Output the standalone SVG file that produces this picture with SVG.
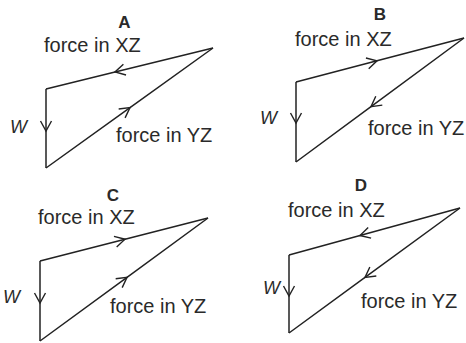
<svg xmlns="http://www.w3.org/2000/svg" width="466" height="343" viewBox="0 0 466 343">
<style>
.bg{fill:#ffffff}
.side{fill:none;stroke:#222;stroke-width:1.5;stroke-linejoin:miter;marker-mid:url(#chev)}
.lbl{font-family:"Liberation Sans",Arial,sans-serif;font-size:20px;fill:#2a2a2a}
.ttl{font-family:"Liberation Sans",Arial,sans-serif;font-size:17px;font-weight:bold;fill:#2a2a2a;text-anchor:middle}
.w{font-family:"Liberation Sans",Arial,sans-serif;font-size:18px;font-style:italic;fill:#2a2a2a}
</style>
<defs>
<marker id="chev" markerUnits="userSpaceOnUse" markerWidth="14" markerHeight="14" viewBox="-12 -7 14 14" refX="0" refY="0" orient="auto" overflow="visible">
<path d="M-10,-5.5 L0,0 L-10,5.5" fill="none" stroke="#222" stroke-width="1.4"/>
</marker>
</defs>
<rect class="bg" x="0" y="0" width="466" height="343"/>
<g id="connectors">
<path class="side" d="M213,48 L115,72 L46,89"/>
<path class="side" d="M46,168 L130,107.6 L213,48"/>
<path class="side" d="M46,89 L46,131 L46,168"/>
<path class="side" d="M296,82 L377,60.8 L464,38"/>
<path class="side" d="M464,38 L371,106.6 L296,162"/>
<path class="side" d="M296,82 L296,123 L296,162"/>
<path class="side" d="M40,261 L125,239.2 L208,218"/>
<path class="side" d="M40,341 L127,277.3 L208,218"/>
<path class="side" d="M40,261 L40,303 L40,341"/>
<path class="side" d="M460,208 L360,235.5 L289,255"/>
<path class="side" d="M460,208 L365,277.4 L289,333"/>
<path class="side" d="M289,255 L289,296 L289,333"/>
</g>
<g id="diagramA">
<text class="ttl" x="124.5" y="28">A</text>
<text class="lbl" x="44" y="52">force in XZ</text>
<text class="lbl" x="116" y="142">force in YZ</text>
<text class="w" x="10" y="133">W</text>
</g>
<g id="diagramB">
<text class="ttl" x="380" y="19.5">B</text>
<text class="lbl" x="295" y="46">force in XZ</text>
<text class="lbl" x="368" y="135">force in YZ</text>
<text class="w" x="260" y="124">W</text>
</g>
<g id="diagramC">
<text class="ttl" x="113" y="201">C</text>
<text class="lbl" x="38" y="224">force in XZ</text>
<text class="lbl" x="110" y="313">force in YZ</text>
<text class="w" x="3" y="303">W</text>
</g>
<g id="diagramD">
<text class="ttl" x="361" y="191">D</text>
<text class="lbl" x="288" y="217">force in XZ</text>
<text class="lbl" x="361" y="308">force in YZ</text>
<text class="w" x="263" y="294">W</text>
</g>
</svg>
